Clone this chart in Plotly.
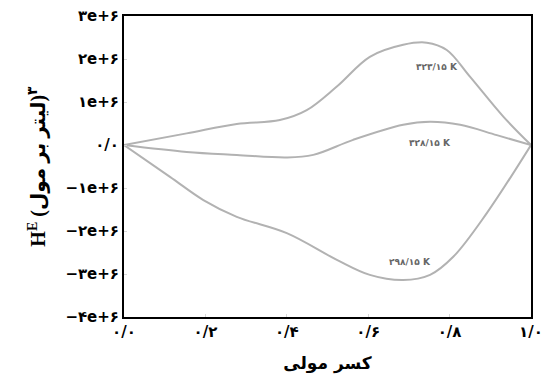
import plotly.graph_objects as go

# Data
x_323 = [0.0, 0.154, 0.277, 0.383, 0.449, 0.523, 0.604, 0.686, 0.744, 0.793, 0.850, 0.932, 1.0]
y_323 = [0.0, 0.27e6, 0.49e6, 0.58e6, 0.81e6, 1.36e6, 2.05e6, 2.33e6, 2.38e6, 2.21e6, 1.59e6, 0.66e6, 0.0]

x_328 = [0.0, 0.154, 0.277, 0.400, 0.465, 0.563, 0.686, 0.752, 0.826, 0.916, 1.0]
y_328 = [0.0, -0.16e6, -0.23e6, -0.29e6, -0.23e6, 0.12e6, 0.47e6, 0.54e6, 0.47e6, 0.23e6, 0.0]

x_298 = [0.0, 0.113, 0.195, 0.277, 0.400, 0.523, 0.604, 0.686, 0.752, 0.809, 0.891, 1.0]
y_298 = [0.0, -0.74e6, -1.28e6, -1.67e6, -2.05e6, -2.67e6, -3.02e6, -3.14e6, -3.02e6, -2.60e6, -1.59e6, 0.0]

series_names = ["۳۲۳/۱۵ K", "۳۲۸/۱۵ K", "۲۹۸/۱۵ K"]
label_x = [0.769, 0.752, 0.703]
label_y = [1.81e6, 0.05e6, -2.72e6]

y_tickvals = [3e6, 2e6, 1e6, 0, -1e6, -2e6, -3e6, -4e6]
y_ticktext = ["۳e+۶", "۲e+۶", "۱e+۶", "۰/۰", "−۱e+۶", "−۲e+۶", "−۳e+۶", "−۴e+۶"]
x_tickvals = [0.0, 0.2, 0.4, 0.6, 0.8, 1.0]
x_ticktext = ["۰/۰", "۰/۲", "۰/۴", "۰/۶", "۰/۸", "۱/۰"]

FONT = "DejaVu Sans, Liberation Serif"
TFONT = "Liberation Serif, DejaVu Sans"

fig = go.Figure()
for xs, ys, nm in [(x_323, y_323, series_names[0]), (x_328, y_328, series_names[1]), (x_298, y_298, series_names[2])]:
    fig.add_trace(go.Scatter(x=xs, y=ys, mode="lines", name=nm,
                             line=dict(color="#b2b2b2", width=2, shape="spline", smoothing=1.0),
                             showlegend=False, hoverinfo="skip"))

for nm, lx, ly in zip(series_names, label_x, label_y):
    fig.add_annotation(x=lx, y=ly, text="<b>" + nm + "</b>", showarrow=False,
                       font=dict(family=FONT, size=9, color="#666666"))

fig.update_layout(
    width=545, height=380,
    margin=dict(l=124, r=14, t=16, b=63),
    paper_bgcolor="white", plot_bgcolor="white",
    font=dict(family=FONT, color="black"),
)
fig.update_xaxes(range=[0, 1], tickvals=x_tickvals, ticktext=x_ticktext,
                 automargin=False, ticklabeloverflow="allow",
                 showgrid=False, zeroline=False,
                 showline=True, mirror=True, linecolor="black", linewidth=2,
                 ticks="inside", ticklen=3, tickcolor="#d8d8d8",
                 tickfont=dict(family=FONT, size=15, color="black", weight="bold"),
                 title=dict(text="<b>کسر مولی</b>", font=dict(family=FONT, size=17, color="black"), standoff=17))
fig.update_yaxes(range=[-4e6, 3e6], tickvals=y_tickvals, ticktext=y_ticktext,
                 automargin=False, ticklabeloverflow="allow",
                 showgrid=False, zeroline=False,
                 showline=True, mirror=True, linecolor="black", linewidth=2,
                 ticks="inside", ticklen=3, tickcolor="#d8d8d8",
                 tickfont=dict(family=FONT, size=15, color="black", weight="bold"),
                 title=dict(text="<b>H<sup>E</sup> (لیتر بر مول)<sup>۳</sup></b>",
                            font=dict(family=TFONT, size=20, color="black"), standoff=14))

fig.write_html("out.html", config={"displayModeBar": False},
               post_script="document.body.style.margin='0';document.body.style.overflow='hidden';")
